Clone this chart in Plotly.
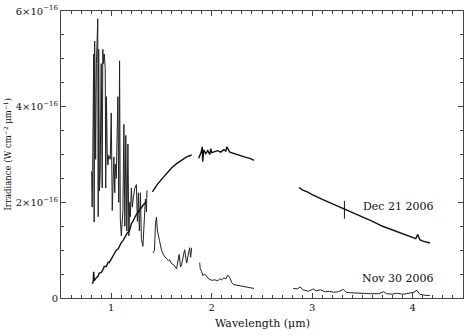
import plotly.graph_objects as go

# Wavelength (um) and irradiance (units of 1e-16 W cm^-2 um^-1); None marks gaps
dec21_wl = [0.81, 0.82, 0.825, 0.83, 0.85, 0.87, 0.88, 0.90, 0.92, 0.93, 0.95, 0.97, 0.98,
            1.00, 1.02, 1.04, 1.05, 1.07, 1.09, 1.10, 1.12, 1.14, 1.16, 1.18, 1.20, 1.22,
            1.25, 1.28, 1.30, 1.32, 1.35, None,
            1.41, 1.45, 1.50, 1.55, 1.60, 1.65, 1.70, 1.75, 1.80, None,
            1.87, 1.88, 1.895, 1.905, 1.91, 1.92, 1.94, 1.96, 1.98, 1.99, 2.00, 2.03,
            2.06, 2.09, 2.12, 2.14, 2.15, 2.18, 2.22, 2.26, 2.30, 2.34, 2.38, 2.42, None,
            2.87, 2.90, 2.95, 3.00, 3.10, 3.20, 3.30, 3.40, 3.50, 3.60, 3.70, 3.80, 3.90,
            4.00, 4.03, 4.05, 4.07, 4.10, 4.17]
dec21_irr = [0.30, 0.33, 0.55, 0.36, 0.42, 0.46, 0.52, 0.53, 0.60, 0.66, 0.66, 0.75, 0.74,
             0.82, 0.87, 0.95, 1.00, 1.03, 1.12, 1.16, 1.21, 1.30, 1.36, 1.40, 1.55, 1.62,
             1.75, 1.83, 1.90, 1.95, 2.02, None,
             2.22, 2.35, 2.48, 2.61, 2.72, 2.81, 2.88, 2.95, 2.99, None,
             2.92, 2.98, 3.05, 3.16, 2.85, 3.10, 3.02, 3.08, 3.00, 3.12, 3.04, 3.06,
             3.08, 3.05, 3.10, 3.07, 3.16, 3.05, 3.02, 2.99, 2.97, 2.94, 2.92, 2.88, None,
             2.31, 2.26, 2.22, 2.16, 2.06, 1.97, 1.87, 1.78, 1.69, 1.60, 1.50, 1.42, 1.34,
             1.27, 1.24, 1.33, 1.22, 1.19, 1.15]

nov30_wl = [0.805, 0.81, 0.815, 0.825, 0.83, 0.835, 0.845, 0.852, 0.866, 0.87, 0.875, 0.883,
            0.89, 0.90, 0.91, 0.916, 0.922, 0.93, 0.94, 0.945, 0.952, 0.96, 0.966, 0.975,
            0.99, 1.00, 1.005, 1.01, 1.026, 1.035, 1.04, 1.05, 1.066, 1.075, 1.083, 1.09,
            1.10, 1.116, 1.126, 1.135, 1.145, 1.155, 1.166, 1.175, 1.185, 1.19, 1.20, 1.21,
            1.22, 1.235, 1.25, 1.26, 1.27, 1.28, 1.29, 1.30, 1.315, 1.325, 1.34, 1.35,
            1.355, None,
            1.415, 1.43, 1.44, 1.45, 1.46, 1.47, 1.48, 1.50, 1.52, 1.55, 1.57, 1.58, 1.60,
            1.62, 1.65, 1.675, 1.69, 1.70, 1.72, 1.73, 1.75, 1.77, 1.78, 1.79, 1.80, None,
            1.88, 1.885, 1.90, 1.91, 1.93, 1.95, 1.97, 2.00, 2.03, 2.06, 2.08, 2.10, 2.12,
            2.14, 2.16, 2.18, 2.20, 2.22, 2.25, 2.28, 2.32, 2.36, 2.40, 2.42, None,
            2.81, 2.85, 2.88, 2.91, 2.96, 3.01, 3.04, 3.08, 3.13, 3.17, 3.21, 3.26, 3.31,
            3.34, 3.38, 3.45, 3.52, 3.58, 3.66, 3.71, 3.74, 3.80, 3.84, 3.90, 3.94, 4.01,
            4.04, 4.07, 4.11, 4.17]
nov30_irr = [2.65, 1.90, 2.64, 5.10, 1.59, 5.37, 2.90, 4.90, 5.84, 1.70, 5.20, 2.24,
             2.60, 4.90, 2.30, 5.20, 4.90, 5.10, 4.80, 2.30, 4.21, 3.05, 2.78, 2.98,
             2.90, 3.87, 2.50, 1.83, 2.95, 2.20, 2.80, 2.50, 4.21, 2.00, 4.96, 1.65,
             1.30, 1.83, 3.63, 1.50, 3.40, 1.40, 3.22, 1.30, 2.00, 1.70, 2.30, 1.90,
             2.10, 2.30, 2.37, 1.60, 2.20, 1.40, 2.20, 1.22, 1.08, 1.60, 2.07, 1.80,
             2.25, None,
             0.94, 1.00, 1.55, 1.69, 1.40, 1.25, 1.20, 1.00, 0.90, 0.82, 0.78, 0.80, 0.72,
             0.70, 0.61, 0.91, 0.65, 0.70, 0.90, 1.01, 0.73, 1.00, 1.05, 0.85, 1.05, None,
             0.74, 0.62, 0.55, 0.47, 0.50, 0.44, 0.40, 0.37, 0.38, 0.36, 0.40, 0.38, 0.42,
             0.40, 0.48, 0.42, 0.32, 0.28, 0.27, 0.25, 0.24, 0.22, 0.21, 0.20, None,
             0.20, 0.19, 0.23, 0.17, 0.14, 0.19, 0.15, 0.17, 0.13, 0.14, 0.12, 0.13, 0.18,
             0.12, 0.11, 0.10, 0.09, 0.09, 0.09, 0.13, 0.09, 0.08, 0.10, 0.08, 0.09, 0.12,
             0.16, 0.08, 0.06, 0.05]

errbar_wl = [3.32, 3.32]
errbar_irr = [1.66, 2.03]

ytick_vals = [0, 2, 4, 6]
ytick_text = ["0", "2×10<sup>−16</sup>", "4×10<sup>−16</sup>", "6×10<sup>−16</sup>"]
xtick_vals = [1, 2, 3, 4]
xtick_text = ["1", "2", "3", "4"]

labels = [("Dec 21 2006", 3.85, 1.92), ("Nov 30 2006", 3.85, 0.40)]

FONT = "DejaVu Serif"
TXT = "#111"

fig = go.Figure()
fig.add_trace(go.Scatter(x=nov30_wl, y=nov30_irr, mode="lines",
                         line=dict(color="#222", width=1), connectgaps=False))
fig.add_trace(go.Scatter(x=dec21_wl, y=dec21_irr, mode="lines",
                         line=dict(color="#111", width=1.4), connectgaps=False))
fig.add_trace(go.Scatter(x=errbar_wl, y=errbar_irr, mode="lines",
                         line=dict(color="#111", width=1)))

for txt, xv, yv in labels:
    fig.add_annotation(x=xv, y=yv, text=txt, showarrow=False,
                       font=dict(family=FONT, size=11, color=TXT))

fig.add_annotation(x=0.5, y=0, xref="paper", yref="paper", text="Wavelength (μm)",
                   showarrow=False, yanchor="middle", yshift=-25,
                   font=dict(family=FONT, size=11, color=TXT))
fig.add_annotation(x=0, y=0.5, xref="paper", yref="paper",
                   text="Irradiance (W cm<sup>−2</sup> μm<sup>−1</sup>)",
                   showarrow=False, textangle=-90, xanchor="center", xshift=-54,
                   font=dict(family=FONT, size=8.5, color=TXT))

axis_common = dict(showline=True, linecolor="#444", linewidth=1, mirror="ticks",
                   ticks="inside", ticklen=5, tickwidth=1, tickcolor="#444",
                   showgrid=False, zeroline=False,
                   tickfont=dict(family=FONT, size=10, color=TXT))

fig.update_xaxes(range=[0.5, 4.5], tickvals=xtick_vals, ticktext=xtick_text,
                 minor=dict(dtick=0.1, ticks="inside", ticklen=3, tickcolor="#444",
                            showgrid=False),
                 **axis_common)
fig.update_yaxes(range=[0, 6.001], tickvals=ytick_vals, ticktext=ytick_text,
                 ticklabeloverflow="allow",
                 minor=dict(dtick=0.5, ticks="inside", ticklen=3, tickcolor="#444",
                            showgrid=False),
                 **axis_common)

fig.update_layout(width=468, height=336, showlegend=False,
                  margin=dict(l=61, r=5, t=4, b=38),
                  plot_bgcolor="white", paper_bgcolor="white")

fig.write_html("out.html")
